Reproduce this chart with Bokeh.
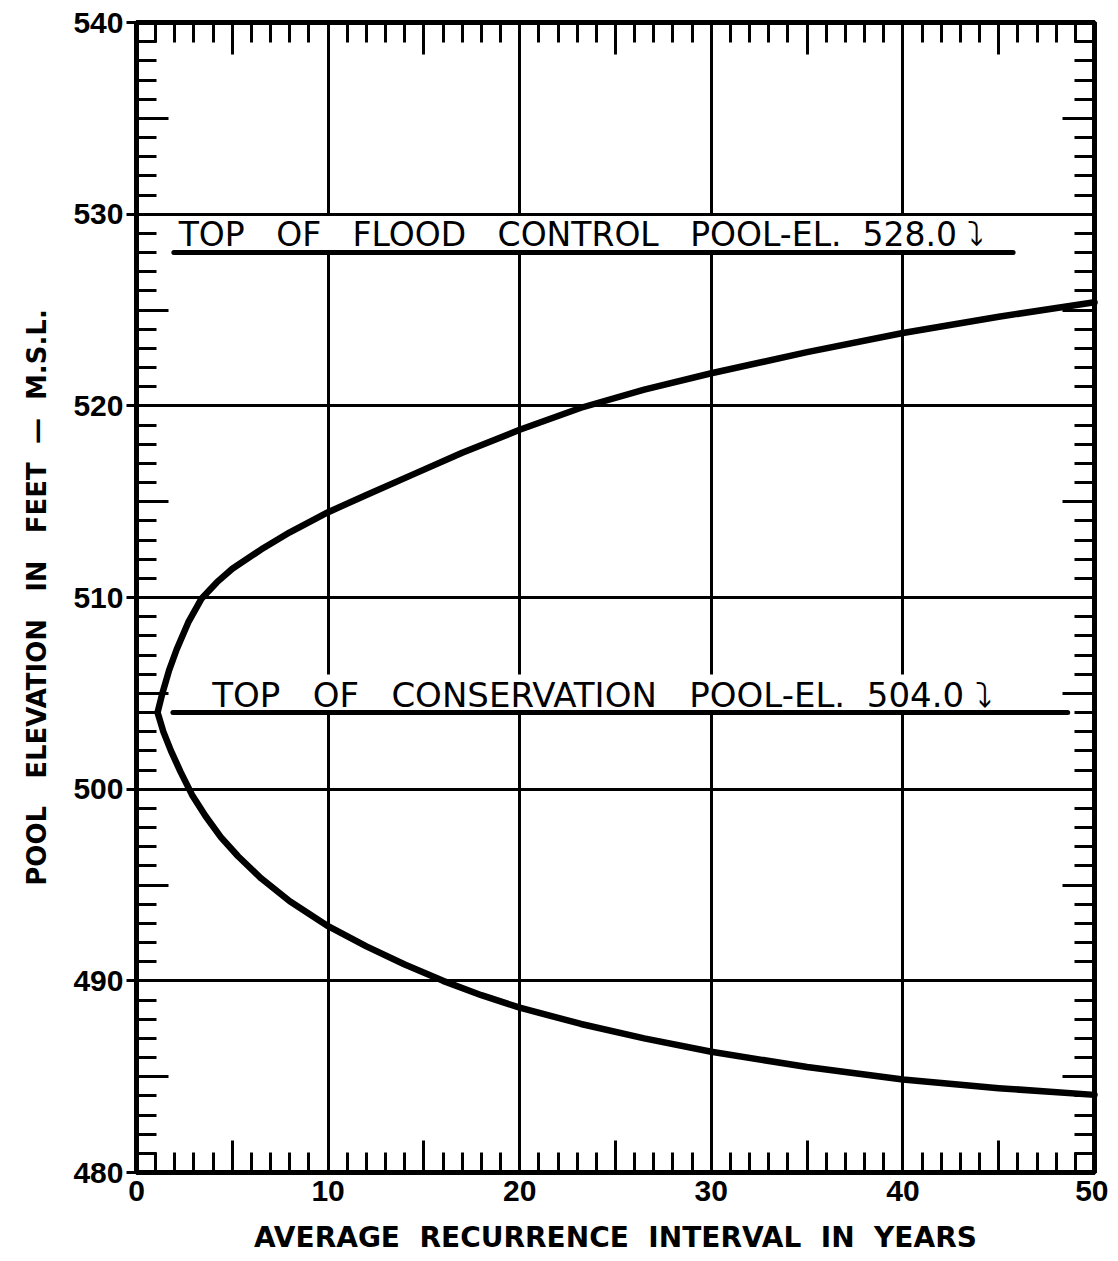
from bokeh.plotting import figure
from bokeh.models import FixedTicker, LinearAxis, Label, Range1d, CustomLabelingPolicy
from bokeh.embed import file_html
from bokeh.resources import INLINE

# ---- data ----
# upper branch of the pool-elevation / recurrence curve (vertex -> right)
upper_x = [1.1, 1.35, 1.7, 2.1, 2.7, 3.4, 4.2, 5.0, 6.5, 8.0, 10.0, 12.0, 14.5, 17.0, 20.0, 23.2, 26.5, 30.0, 35.0, 40.0, 45.0, 50.0]
upper_y = [504.0, 505.0, 506.2, 507.3, 508.7, 509.95, 510.8, 511.5, 512.5, 513.4, 514.45, 515.35, 516.45, 517.55, 518.75, 519.9, 520.85, 521.7, 522.8, 523.8, 524.65, 525.4]
# lower branch (vertex -> right)
lower_x = [1.1, 1.4, 1.8, 2.3, 2.9, 3.6, 4.4, 5.3, 6.5, 8.0, 10.0, 12.0, 14.0, 16.0, 18.0, 20.0, 23.2, 26.5, 30.0, 35.0, 40.0, 45.0, 50.0]
lower_y = [504.0, 503.0, 502.0, 500.9, 499.7, 498.6, 497.5, 496.5, 495.35, 494.15, 492.85, 491.8, 490.85, 490.0, 489.25, 488.6, 487.75, 487.0, 486.3, 485.5, 484.85, 484.4, 484.05]

S3 = "\u00a0\u00a0\u00a0"
S2 = "\u00a0\u00a0"
pool_names = ["TOP" + S3 + "OF" + S3 + "FLOOD" + S3 + "CONTROL" + S3 + "POOL-EL." + S2 + "528.0\u00a0\u2935",
              "TOP" + S3 + "OF" + S3 + "CONSERVATION" + S3 + "POOL-EL." + S2 + "504.0\u00a0\u2935"]
pool_levels = [528.0, 504.0]
pool_start = [1.95, 1.9]
pool_end = [45.75, 48.6]
pool_label_x = [2.2, 3.95]

x_ticks = [0, 5, 10, 15, 20, 25, 30, 35, 40, 45, 50]
x_minor = list(range(0, 51))
x_labeled = [0, 10, 20, 30, 40, 50]
y_ticks = [480, 485, 490, 495, 500, 505, 510, 515, 520, 525, 530, 535, 540]
y_minor = list(range(480, 541))
y_labeled = [480, 490, 500, 510, 520, 530, 540]

x_title = "AVERAGE\u00a0 RECURRENCE\u00a0 INTERVAL\u00a0 IN\u00a0 YEARS"
y_title = "POOL\u00a0\u00a0 ELEVATION\u00a0\u00a0 IN\u00a0\u00a0 FEET\u00a0 \u2014\u00a0 M.S.L."

# ---- figure ----
p = figure(frame_width=958, frame_height=1150,
           x_range=Range1d(0, 50), y_range=Range1d(480, 540),
           output_backend="svg", toolbar_location=None,
           min_border_left=136, min_border_right=14,
           min_border_top=22, min_border_bottom=80,
           background_fill_color="white", border_fill_color="white")
p.outline_line_color = "black"
p.outline_line_width = 5

# inner axes carry only the tick marks; outer axes carry the labels
bottom_ticks_axis = p.below[0]
left_ticks_axis = p.left[0]
top_axis = LinearAxis()
right_axis = LinearAxis()
bottom_label_axis = LinearAxis()
left_label_axis = LinearAxis()
p.add_layout(top_axis, "above")
p.add_layout(right_axis, "right")
p.add_layout(bottom_label_axis, "below")
p.add_layout(left_label_axis, "left")

no_labels = CustomLabelingPolicy(code="""
try { return new indices.constructor(indices.size, 0) } catch (e) { return indices }
""")


def tick_only(ax, ticks, minor):
    ax.ticker = FixedTicker(ticks=ticks, minor_ticks=minor)
    ax.axis_line_color = "black"
    ax.axis_line_width = 5
    ax.major_tick_in = 32
    ax.major_tick_out = 0
    ax.minor_tick_in = 20
    ax.minor_tick_out = 0
    ax.major_tick_line_color = "black"
    ax.minor_tick_line_color = "black"
    ax.major_tick_line_width = 3
    ax.minor_tick_line_width = 3
    ax.major_label_text_font_size = "0px"
    ax.major_label_standoff = 0
    ax.major_label_policy = no_labels


def label_axis(ax, labeled, tick_out, standoff):
    ax.ticker = FixedTicker(ticks=labeled, minor_ticks=[])
    ax.axis_line_color = None
    ax.major_tick_in = 0
    ax.major_tick_out = tick_out
    ax.major_tick_line_color = "black" if tick_out else None
    ax.major_tick_line_width = 3
    ax.minor_tick_line_color = None
    ax.major_label_text_font = "Liberation Sans"
    ax.major_label_text_font_style = "bold"
    ax.major_label_text_font_size = "30px"
    ax.major_label_text_color = "black"
    ax.major_label_standoff = standoff
    ax.axis_label_text_font = "DejaVu Sans"
    ax.axis_label_text_font_style = "bold"
    ax.axis_label_text_color = "black"


tick_only(bottom_ticks_axis, x_ticks, x_minor)
tick_only(left_ticks_axis, y_ticks, y_minor)
tick_only(top_axis, x_ticks, x_minor)
tick_only(right_axis, y_ticks, y_minor)

label_axis(bottom_label_axis, x_labeled, 0, 8)
label_axis(left_label_axis, y_labeled, 10, 3)
bottom_label_axis.axis_label = x_title
left_label_axis.axis_label = y_title
bottom_label_axis.axis_label_text_font_size = "28px"
left_label_axis.axis_label_text_font_size = "26px"
bottom_label_axis.axis_label_standoff = 17
left_label_axis.axis_label_standoff = 18

p.xgrid.ticker = FixedTicker(ticks=[10, 20, 30, 40])
p.ygrid.ticker = FixedTicker(ticks=[490, 500, 510, 520, 530])
for g in (p.xgrid[0], p.ygrid[0]):
    g.grid_line_color = "black"
    g.grid_line_width = 3
    g.grid_line_alpha = 1.0
# horizontal grid stays continuous above the label backgrounds
p.ygrid[0].level = "overlay"

# pool labels (white background interrupts the vertical grid lines)
sizes = ["33px", "34px"]
offsets = [18, 18]
for name, lvl, lx, fs, off in zip(pool_names, pool_levels, pool_label_x, sizes, offsets):
    p.add_layout(Label(x=lx, y=lvl, text=name, text_font="DejaVu Sans",
                       text_font_size=fs, text_color="black",
                       text_baseline="alphabetic", y_offset=off,
                       background_fill_color="white"))

# pool lines
p.segment(x0=pool_start, y0=pool_levels, x1=pool_end, y1=pool_levels,
          line_color="black", line_width=5, line_cap="round", level="overlay")

# curve
curve_x = upper_x[::-1] + lower_x[1:]
curve_y = upper_y[::-1] + lower_y[1:]
p.line(curve_x, curve_y, line_color="black", line_width=6.5,
       line_join="round", line_cap="round", level="overlay")

open("out.html", "w").write(file_html(p, INLINE))
